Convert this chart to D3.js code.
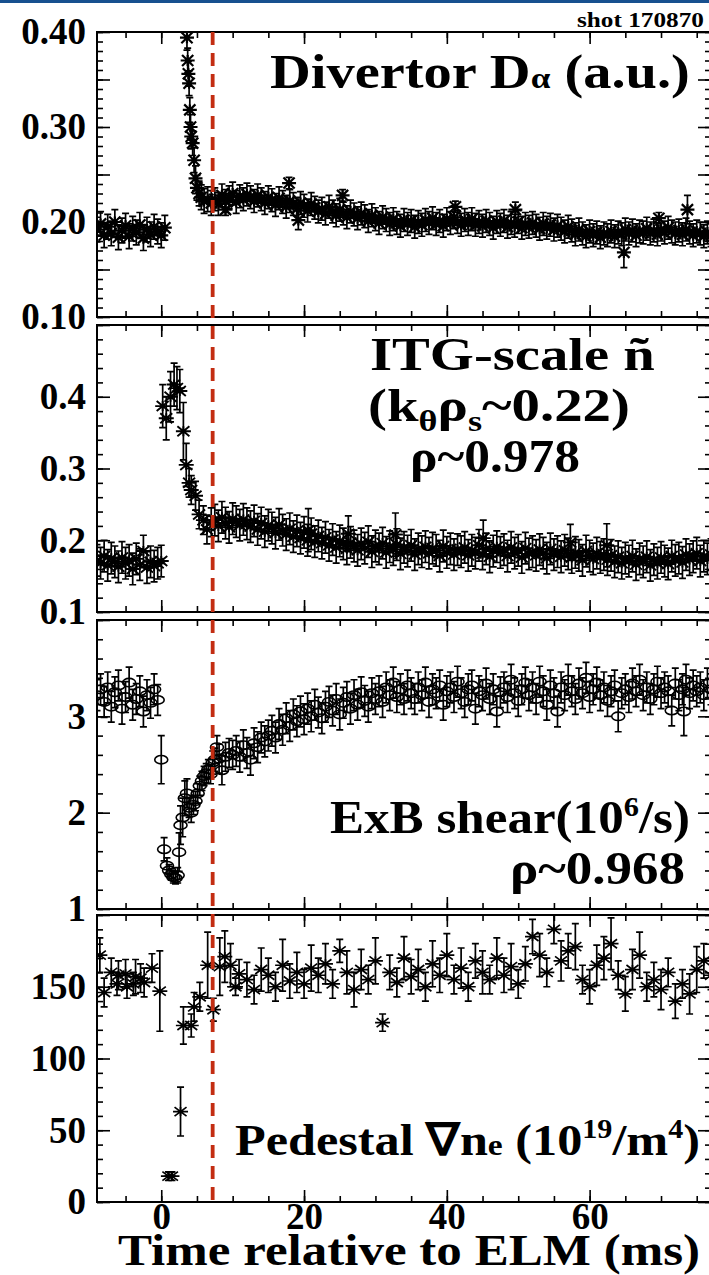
<!DOCTYPE html>
<html>
<head>
<meta charset="utf-8">
<script src="https://cdn.jsdelivr.net/npm/d3@7"></script>
<style>
body { margin: 0; background: #fff; }
svg { display: block; font-family: "Liberation Serif", "Times New Roman", serif; font-weight: bold; }
</style>
</head>
<body>
<svg id="chart" width="709" height="1275"></svg>
<script>
// ---- data (time in ms relative to ELM) ----
var elmTime = 7.2;
var xTickLabels = [0, 20, 40, 60];

// Divertor D-alpha, pre-ELM (t = -9 .. 0.5, every 0.5 ms)
var daPre = [0.192,0.198,0.186,0.195,0.188,0.200,0.184,0.191,0.196,0.185,0.193,0.189,0.197,0.183,0.192,0.187,0.195,0.190,0.186,0.194];
var daSpikeT = [3.6,3.7,3.8,3.9,4.0,4.1,4.2,4.4,4.6,4.8,5.0,5.3,5.6,6.0,6.5,7.0];
var daSpikeV = [0.394,0.370,0.356,0.346,0.318,0.300,0.290,0.283,0.265,0.246,0.236,0.230,0.226,0.222,0.224,0.220];
// post-ELM (t = 7.5 .. 77, every 0.5 ms)
var daPost = [
  0.224,0.219,0.228,0.222,0.226,0.230,0.221,0.227,0.224,0.229,
  0.226,0.222,0.228,0.224,0.220,0.226,0.223,0.218,0.225,0.221,
  0.216,0.222,0.219,0.214,0.220,0.217,0.212,0.219,0.215,0.211,
  0.214,0.209,0.216,0.211,0.207,0.213,0.209,0.205,0.211,0.208,
  0.204,0.209,0.206,0.201,0.207,0.203,0.199,0.205,0.202,0.198,
  0.203,0.199,0.196,0.202,0.198,0.201,0.195,0.200,0.197,0.202,
  0.199,0.204,0.198,0.201,0.196,0.203,0.199,0.205,0.200,0.197,
  0.202,0.198,0.203,0.197,0.200,0.196,0.201,0.198,0.194,0.200,
  0.197,0.201,0.195,0.199,0.196,0.200,0.194,0.198,0.195,0.199,
  0.196,0.193,0.198,0.194,0.197,0.192,0.196,0.193,0.190,0.195,
  0.191,0.187,0.192,0.188,0.185,0.190,0.186,0.189,0.184,0.188,
  0.186,0.190,0.185,0.189,0.187,0.192,0.188,0.191,0.186,0.190,
  0.189,0.193,0.188,0.191,0.187,0.192,0.189,0.194,0.190,0.188,
  0.191,0.187,0.192,0.189,0.186,0.190,0.188,0.185,0.189,0.186];
var daOddT = [9.0,17.9,19.2,25.4,41.2,49.6,64.8,69.7,73.7];
var daOddV = [0.213,0.241,0.202,0.228,0.216,0.213,0.168,0.204,0.213];
var daOddE = [0.006,0.006,0.010,0.006,0.006,0.008,0.016,0.006,0.015];

// ITG-scale density fluctuation
var itgPre = [0.172,0.168,0.178,0.165,0.175,0.170,0.163,0.176,0.168,0.172,0.160,0.174,0.166,0.185,0.162,0.170,0.164,0.168,0.171];
var itgSpikeT = [0.2,0.7,1.3,1.8,2.2,2.6,3.1,3.5,3.9,4.2,4.8,5.3,5.9,6.4,7.0];
var itgSpikeV = [0.387,0.370,0.400,0.417,0.412,0.408,0.352,0.305,0.280,0.270,0.262,0.236,0.228,0.215,0.225];
var itgSpikeE = [0.030,0.030,0.035,0.030,0.030,0.030,0.040,0.030,0.020,0.020,0.020,0.020,0.020,0.020,0.020];
var itgPost = [
  0.228,0.220,0.232,0.224,0.218,0.230,0.226,0.221,0.229,0.223,
  0.219,0.227,0.215,0.224,0.212,0.221,0.217,0.210,0.222,0.214,
  0.208,0.216,0.205,0.213,0.203,0.211,0.200,0.209,0.198,0.206,
  0.196,0.204,0.193,0.201,0.190,0.199,0.195,0.188,0.197,0.192,
  0.186,0.195,0.189,0.198,0.184,0.192,0.188,0.196,0.183,0.191,
  0.187,0.194,0.181,0.190,0.185,0.193,0.180,0.188,0.184,0.191,
  0.182,0.189,0.186,0.178,0.192,0.183,0.188,0.180,0.187,0.184,
  0.190,0.179,0.186,0.182,0.193,0.181,0.188,0.177,0.185,0.191,
  0.183,0.187,0.178,0.190,0.182,0.186,0.176,0.189,0.181,0.184,
  0.179,0.187,0.182,0.175,0.188,0.180,0.184,0.177,0.186,0.181,
  0.176,0.183,0.179,0.172,0.185,0.178,0.174,0.182,0.176,0.180,
  0.173,0.179,0.170,0.177,0.168,0.175,0.171,0.178,0.166,0.174,
  0.170,0.177,0.165,0.173,0.168,0.176,0.171,0.167,0.178,0.172,
  0.175,0.169,0.180,0.173,0.177,0.182,0.171,0.178,0.174,0.180];
var itgOddT = [20.6,26.2,32.8,45.1,57.3,62.4];
var itgOddV = [0.214,0.209,0.208,0.203,0.197,0.193];
var itgOddE = [0.030,0.025,0.030,0.025,0.025,0.030];

// ExB shear (10^6/s)
var exbPre = [3.22,3.28,3.15,3.30,3.10,3.25,3.32,3.08,3.20,3.35,3.12,3.18,3.26,3.05,3.22,3.14,3.28,3.17];
var exbDipT = [0.0,0.4,0.8,1.1,1.4,1.7,2.0,2.3,2.5,2.7,3.0,3.3,3.6,3.9,4.2,4.5,4.8,5.1,5.4,5.7,6.0,6.3,6.6,6.9,7.2,7.5,7.8,8.1,8.5,9.0,9.5,10.0];
var exbDipV = [2.55,1.62,1.45,1.40,1.36,1.33,1.32,1.35,1.59,1.87,1.95,2.15,2.20,2.05,2.00,2.08,2.12,2.20,2.28,2.33,2.38,2.41,2.45,2.40,2.52,2.55,2.68,2.56,2.44,2.58,2.62,2.60];
var exbDipE = [0.25,0.12,0.08,0.06,0.06,0.06,0.06,0.08,0.20,0.20,0.20,0.18,0.15,0.10,0.10,0.10,0.10,0.10,0.10,0.10,0.10,0.10,0.10,0.10,0.12,0.12,0.12,0.15,0.15,0.15,0.15,0.15];
var exbPost = [
  2.64,2.58,2.70,2.62,2.55,2.72,2.68,2.78,2.74,2.80,
  2.85,2.78,2.92,2.86,2.98,2.90,3.02,2.95,3.05,2.97,
  3.08,3.00,3.12,3.04,2.98,3.10,3.15,3.06,3.18,3.02,
  3.14,3.20,3.08,3.22,3.12,3.25,3.16,3.10,3.24,3.18,
  3.26,3.15,3.30,3.22,3.35,3.20,3.28,3.18,3.32,3.24,
  3.18,3.30,3.22,3.35,3.15,3.28,3.24,3.32,3.12,3.26,
  3.30,3.20,3.36,3.24,3.15,3.28,3.32,3.08,3.26,3.22,
  3.34,3.18,3.28,3.05,3.25,3.30,3.20,3.38,3.24,3.16,
  3.28,3.35,3.22,3.30,3.18,3.36,3.26,3.12,3.32,3.24,
  3.05,3.30,3.22,3.38,3.26,3.18,3.34,3.24,3.40,3.20,
  3.28,3.35,3.22,3.30,3.16,3.26,3.32,3.00,3.24,3.28,
  3.20,3.34,3.26,3.38,3.22,3.30,3.18,3.28,3.36,3.24,
  3.30,3.26,3.06,3.34,3.22,3.28,3.38,3.24,3.32,3.26,
  3.30,3.22,3.34,3.28];

// Pedestal density gradient (10^19/m^4)
var nePreT = [-8.6,-8.0,-7.0,-6.2,-6.0,-5.0,-4.8,-3.9,-3.6,-2.9,-2.4,-1.3,-0.2,1.0,1.5,2.7,3.1,4.2,4.6,5.4,6.5,7.3,8.2,8.9,9.7,10.4,10.9];
var nePreV = [172,146,160,152,158,159,150,152,157,156,153,163,147,18,18,63,123,123,136,143,165,134,164,171,165,150,159];
var nePreE = [12,10,10,8,10,10,8,8,12,10,10,10,28,3,3,17,13,8,10,10,23,8,20,18,15,6,10];
// t = 12 .. 77, every 1 ms
var nePost = [
  155,148,162,158,150,165,154,160,152,163,
  158,166,152,175,160,148,162,155,168,125,
  160,153,170,157,162,150,166,158,172,155,
  163,150,168,160,155,170,158,164,152,166,
  185,172,160,190,168,175,178,155,150,165,
  170,180,158,145,162,172,150,155,148,160,
  140,152,145,162,168,158];
var nePostE = [
  12,10,15,12,10,18,12,14,10,16,
  12,14,10,8,15,12,14,10,16,6,
  12,10,15,12,14,10,16,12,15,10,
  14,10,12,15,10,14,12,16,10,12,
  12,15,10,10,14,12,16,10,12,14,
  15,18,10,12,14,16,10,12,14,10,
  12,10,14,16,12,10];

// ---- helpers ----
function grid(t0, dt, vals, err) {
  return vals.map(function(v, i) {
    return {t: t0 + i * dt, v: v, e: Array.isArray(err) ? err[i] : err};
  });
}
function pairs(ts, vs, err) {
  return ts.map(function(t, i) {
    return {t: t, v: vs[i], e: Array.isArray(err) ? err[i] : err};
  });
}

var daData = grid(-9, 0.5, daPre, 0.013)
  .concat(pairs(daSpikeT, daSpikeV, 0.013))
  .concat(grid(7.5, 0.5, daPost, 0.012))
  .concat(pairs(daOddT, daOddV, daOddE));
var itgData = grid(-9, 0.5, itgPre, 0.022)
  .concat(pairs(itgSpikeT, itgSpikeV, itgSpikeE))
  .concat(grid(7.5, 0.5, itgPost, 0.022))
  .concat(pairs(itgOddT, itgOddV, itgOddE));
var exbData = grid(-9, 0.5, exbPre, 0.16)
  .concat(pairs(exbDipT, exbDipV, exbDipE))
  .concat(grid(10.5, 0.5, exbPost, 0.16))
  .concat([{t: 73.2, v: 3.05, e: 0.25}]);
var neData = pairs(nePreT, nePreV, nePreE)
  .concat(grid(12, 1, nePost, nePostE));

// ---- layout ----
var svg = d3.select("#chart");
var serif = "Liberation Serif, Times New Roman, serif";
var x = d3.scaleLinear().domain([-9, 77]).range([97, 711]);
var x0 = x.range()[0], x1 = x.range()[1];

svg.append("rect").attr("x", 0).attr("y", 0).attr("width", 709).attr("height", 3).attr("fill", "#17508f");

var panels = [
  {name: "da", data: daData, top: 32, bottom: 317, domain: [0.1, 0.4], labels: [0.1, 0.2, 0.3, 0.4], fmt: ".2f",
   major: d3.range(0.1, 0.4001, 0.05), minor: d3.range(0.1, 0.4001, 0.01), marker: "star", sw: 7, sh: 5.5, lw: 2.2},
  {name: "itg", data: itgData, top: 325, bottom: 612, domain: [0.1, 0.5], labels: [0.1, 0.2, 0.3, 0.4], fmt: ".1f",
   major: d3.range(0.1, 0.5001, 0.1), minor: d3.range(0.1, 0.5001, 0.02), marker: "star", sw: 7.5, sh: 5, lw: 1.9},
  {name: "exb", data: exbData, top: 620, bottom: 909, domain: [1, 4], labels: [1, 2, 3], fmt: "d",
   major: [1, 2, 3, 4], minor: d3.range(1, 4.001, 0.2), marker: "circle"},
  {name: "ne", data: neData, top: 915, bottom: 1202, domain: [0, 200], labels: [0, 50, 100, 150], fmt: "d",
   major: [0, 50, 100, 150, 200], minor: d3.range(0, 200.1, 10), marker: "star", sw: 7.5, sh: 4.5, lw: 1.7}
];

function starPath(cx, cy, w, h) {
  var p = d3.path();
  p.moveTo(cx - w, cy); p.lineTo(cx + w, cy);
  p.moveTo(cx - w * 0.8, cy - h); p.lineTo(cx + w * 0.8, cy + h);
  p.moveTo(cx - w * 0.8, cy + h); p.lineTo(cx + w * 0.8, cy - h);
  p.moveTo(cx, cy - h); p.lineTo(cx, cy + h);
  return p.toString();
}

function styleAxis(g) {
  g.select(".domain").remove();
  g.attr("font-family", serif).attr("font-weight", "bold").attr("font-size", 37);
  g.selectAll(".tick line").attr("stroke", "#000").attr("stroke-width", 1.6);
}

// stretch a text horizontally so it covers [left, left + width]
function fitText(t, left, width) {
  var bb = t.node().getBBox();
  t.attr("transform", "translate(" + left + ",0) scale(" + (width / bb.width) + ",1) translate(" + (-bb.x) + ",0)");
}

panels.forEach(function(p, i) {
  var y = d3.scaleLinear().domain(p.domain).range([p.bottom, p.top]);
  var g = svg.append("g").attr("class", "panel-" + p.name);

  g.append("clipPath").attr("id", "clip" + i)
    .append("rect").attr("x", x0).attr("y", p.top).attr("width", x1 - x0).attr("height", p.bottom - p.top);

  // minor and major ticks on all four sides, pointing inward
  g.append("g").attr("transform", "translate(" + x0 + ",0)")
    .call(d3.axisLeft(y).tickValues(p.minor).tickFormat("").tickSize(-6)).call(styleAxis);
  g.append("g").attr("transform", "translate(" + x0 + ",0)")
    .call(d3.axisLeft(y).tickValues(p.major).tickFormat("").tickSize(-13)).call(styleAxis);
  g.append("g").attr("transform", "translate(" + x0 + ",0)")
    .call(d3.axisLeft(y).tickValues(p.labels).tickFormat(d3.format(p.fmt)).tickSize(0).tickPadding(11))
    .call(styleAxis);
  g.append("g").attr("transform", "translate(" + x1 + ",0)")
    .call(d3.axisRight(y).tickValues(p.minor).tickFormat("").tickSize(-6)).call(styleAxis);
  g.append("g").attr("transform", "translate(" + x1 + ",0)")
    .call(d3.axisRight(y).tickValues(p.major).tickFormat("").tickSize(-13)).call(styleAxis);

  var xMinor = d3.range(-5, 77, 5), xMajor = [0, 20, 40, 60];
  g.append("g").attr("transform", "translate(0," + p.top + ")")
    .call(d3.axisBottom(x).tickValues(xMinor).tickFormat("").tickSize(6)).call(styleAxis);
  g.append("g").attr("transform", "translate(0," + p.top + ")")
    .call(d3.axisBottom(x).tickValues(xMajor).tickFormat("").tickSize(12)).call(styleAxis);
  g.append("g").attr("transform", "translate(0," + p.bottom + ")")
    .call(d3.axisTop(x).tickValues(xMinor).tickFormat("").tickSize(6)).call(styleAxis);
  g.append("g").attr("transform", "translate(0," + p.bottom + ")")
    .call(d3.axisTop(x).tickValues(xMajor).tickFormat("").tickSize(12)).call(styleAxis);

  g.append("rect").attr("x", x0).attr("y", p.top).attr("width", x1 - x0).attr("height", p.bottom - p.top)
    .attr("fill", "none").attr("stroke", "#000").attr("stroke-width", 2);

  var marks = g.append("g").attr("clip-path", "url(#clip" + i + ")");
  var pts = marks.selectAll("g.pt").data(p.data).enter().append("g").attr("class", "pt");

  // error bars with caps
  pts.append("path")
    .attr("d", function(d) {
      var cx = x(d.t), ya = y(d.v - d.e), yb = y(d.v + d.e);
      return "M" + cx + "," + ya + "V" + yb +
             "M" + (cx - 3.5) + "," + ya + "H" + (cx + 3.5) +
             "M" + (cx - 3.5) + "," + yb + "H" + (cx + 3.5);
    })
    .attr("fill", "none").attr("stroke", "#000").attr("stroke-width", 1.7);

  if (p.marker === "circle") {
    pts.append("ellipse")
      .attr("cx", function(d) { return x(d.t); })
      .attr("cy", function(d) { return y(d.v); })
      .attr("rx", 6.5).attr("ry", 4.2)
      .attr("fill", "none").attr("stroke", "#000").attr("stroke-width", 1.6);
  } else {
    pts.append("path")
      .attr("d", function(d) { return starPath(x(d.t), y(d.v), p.sw, p.sh); })
      .attr("fill", "none").attr("stroke", "#000").attr("stroke-width", p.lw);
  }
});

// x tick labels and title under the last panel
var last = panels[panels.length - 1];
svg.append("g").attr("transform", "translate(0," + last.bottom + ")")
  .call(d3.axisBottom(x).tickValues(xTickLabels).tickFormat(d3.format("d")).tickSize(0).tickPadding(1))
  .call(styleAxis);

var title = svg.append("text").attr("y", 1265).attr("font-size", 45).text("Time relative to ELM (ms)");
fitText(title, 118, 582);

// ELM marker line
svg.append("line")
  .attr("x1", x(elmTime)).attr("x2", x(elmTime))
  .attr("y1", panels[0].top).attr("y2", last.bottom + 4)
  .attr("stroke", "#c32d12").attr("stroke-width", 3.8).attr("stroke-dasharray", "13,8");

// annotations
var shot = svg.append("text").attr("y", 27).attr("font-size", 21).text("shot 170870");
fitText(shot, 577, 127);

var t1 = svg.append("text").attr("y", 88).attr("font-size", 48);
t1.append("tspan").text("Divertor D");
t1.append("tspan").attr("font-size", 30).text("α");
t1.append("tspan").text(" (a.u.)");
fitText(t1, 270, 420);

var t2a = svg.append("text").attr("y", 370).attr("font-size", 47).text("ITG-scale ñ");
fitText(t2a, 370, 285);
var t2b = svg.append("text").attr("y", 421).attr("font-size", 47);
t2b.append("tspan").text("(k");
t2b.append("tspan").attr("font-size", 30).attr("dy", 10).text("θ");
t2b.append("tspan").attr("dy", -10).text("ρ");
t2b.append("tspan").attr("font-size", 30).attr("dy", 10).text("s");
t2b.append("tspan").attr("dy", -10).text("~0.22)");
fitText(t2b, 368, 262);
var t2c = svg.append("text").attr("y", 472).attr("font-size", 47).text("ρ~0.978");
fitText(t2c, 410, 170);

var t3 = svg.append("text").attr("y", 833).attr("font-size", 47);
t3.append("tspan").text("ExB shear(10");
t3.append("tspan").attr("font-size", 28).attr("dy", -17).text("6");
t3.append("tspan").attr("dy", 17).text("/s)");
fitText(t3, 330, 360);
var t3b = svg.append("text").attr("y", 884).attr("font-size", 47).text("ρ~0.968");
fitText(t3b, 510, 175);

var t4 = svg.append("text").attr("y", 1155).attr("font-size", 45);
t4.append("tspan").text("Pedestal ∇n");
t4.append("tspan").attr("font-size", 30).text("e");
t4.append("tspan").text(" (10");
t4.append("tspan").attr("font-size", 27).attr("dy", -17).text("19");
t4.append("tspan").attr("dy", 17).text("/m");
t4.append("tspan").attr("font-size", 27).attr("dy", -17).text("4");
t4.append("tspan").attr("dy", 17).text(")");
fitText(t4, 235, 465);
</script>
</body>
</html>
